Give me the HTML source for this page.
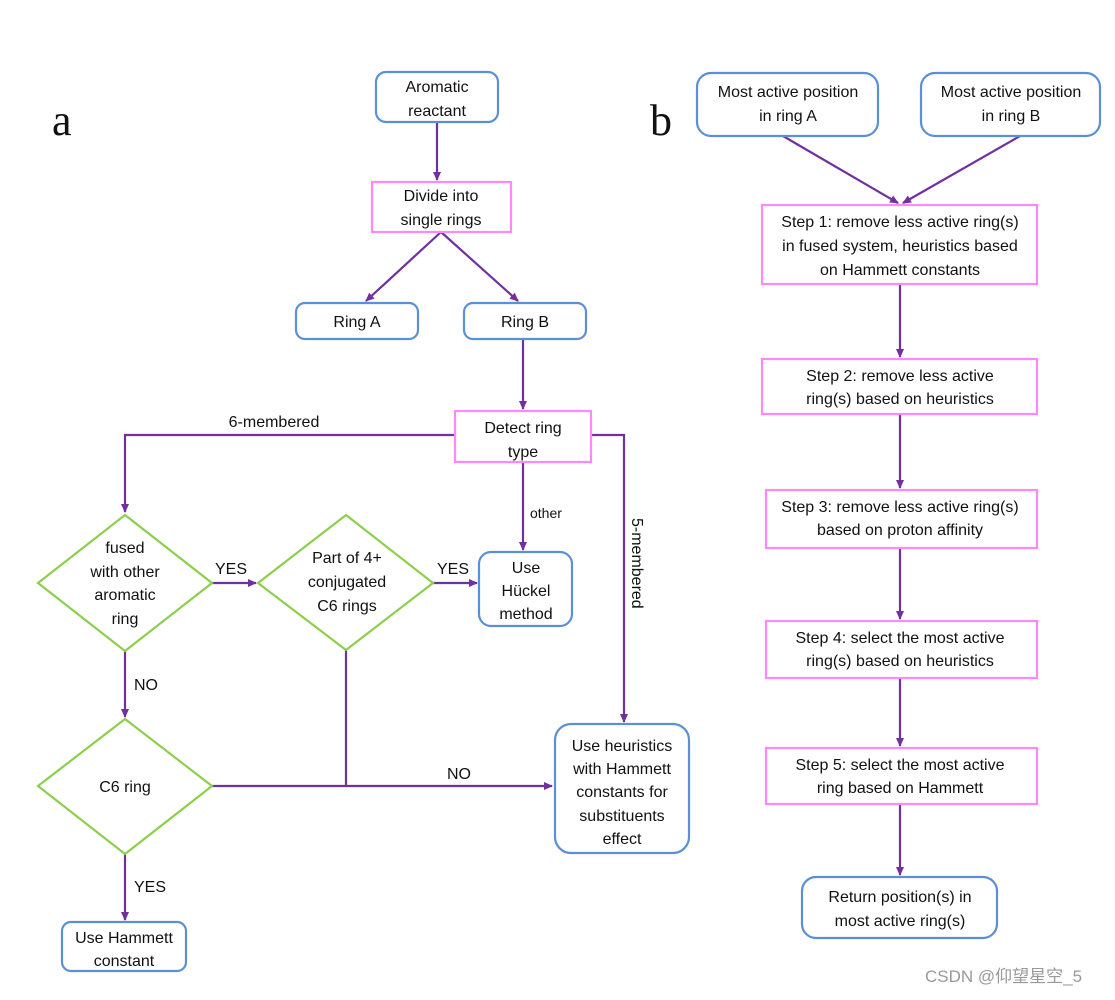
<!DOCTYPE html>
<html><head><meta charset="utf-8"><style>
html,body{margin:0;padding:0;background:#fff;}
svg text{font-family:"Liberation Sans","DejaVu Sans",sans-serif;font-size:16px;fill:#111;}
</style></head><body>
<svg width="1115" height="995" viewBox="0 0 1115 995" xmlns="http://www.w3.org/2000/svg">
<defs>
<marker id="ar" markerWidth="10" markerHeight="10" refX="8" refY="5" orient="auto" markerUnits="userSpaceOnUse">
<path d="M0,1 L9,5 L0,9 z" fill="#7030a0"/></marker>
</defs>
<g stroke="#7030a0" stroke-width="2.2" fill="none">
<line x1="437" y1="122" x2="437" y2="180" marker-end="url(#ar)"/>
<line x1="441" y1="232" x2="366" y2="301" marker-end="url(#ar)"/>
<line x1="441" y1="232" x2="518" y2="301" marker-end="url(#ar)"/>
<line x1="523" y1="339" x2="523" y2="409" marker-end="url(#ar)"/>
<polyline points="455,435 125,435 125,512" marker-end="url(#ar)"/>
<polyline points="591,435 624,435 624,722" marker-end="url(#ar)"/>
<line x1="523" y1="462" x2="523" y2="550" marker-end="url(#ar)"/>
<line x1="212" y1="583" x2="256" y2="583" marker-end="url(#ar)"/>
<line x1="433" y1="583" x2="477" y2="583" marker-end="url(#ar)"/>
<line x1="125" y1="651" x2="125" y2="717" marker-end="url(#ar)"/>
<line x1="212" y1="786" x2="552" y2="786" marker-end="url(#ar)"/>
<line x1="346" y1="650" x2="346" y2="786"/>
<line x1="125" y1="854" x2="125" y2="920" marker-end="url(#ar)"/>
<line x1="783" y1="136" x2="898" y2="203" marker-end="url(#ar)"/>
<line x1="1020" y1="136" x2="903" y2="203" marker-end="url(#ar)"/>
<line x1="900" y1="284" x2="900" y2="357" marker-end="url(#ar)"/>
<line x1="900" y1="414" x2="900" y2="488" marker-end="url(#ar)"/>
<line x1="900" y1="548" x2="900" y2="619" marker-end="url(#ar)"/>
<line x1="900" y1="678" x2="900" y2="746" marker-end="url(#ar)"/>
<line x1="900" y1="804" x2="900" y2="875" marker-end="url(#ar)"/>
</g>
<g fill="#fff" stroke-width="2.2">
<rect x="376" y="72" width="122" height="50" rx="10" stroke="#5b8fd6"/>
<rect x="372" y="182" width="139" height="50" stroke="#ff88ff"/>
<rect x="296" y="303" width="122" height="36" rx="9" stroke="#5b8fd6"/>
<rect x="464" y="303" width="122" height="36" rx="9" stroke="#5b8fd6"/>
<rect x="455" y="411" width="136" height="51" stroke="#ff88ff"/>
<polygon points="125,515 212,583 125,651 38,583" stroke="#8ccf4d"/>
<polygon points="346,515 433,583 346,650 258,583" stroke="#8ccf4d"/>
<rect x="479" y="552" width="93" height="74" rx="12" stroke="#5b8fd6"/>
<polygon points="125,719 212,786 125,854 38,786" stroke="#8ccf4d"/>
<rect x="555" y="724" width="134" height="129" rx="16" stroke="#5b8fd6"/>
<rect x="62" y="922" width="124" height="49" rx="9" stroke="#5b8fd6"/>
<rect x="697" y="73" width="181" height="63" rx="14" stroke="#5b8fd6"/>
<rect x="921" y="73" width="179" height="63" rx="14" stroke="#5b8fd6"/>
<rect x="762" y="205" width="275" height="79" stroke="#ff88ff"/>
<rect x="762" y="359" width="275" height="55" stroke="#ff88ff"/>
<rect x="766" y="490" width="271" height="58" stroke="#ff88ff"/>
<rect x="766" y="621" width="271" height="57" stroke="#ff88ff"/>
<rect x="766" y="748" width="271" height="56" stroke="#ff88ff"/>
<rect x="802" y="877" width="195" height="61" rx="14" stroke="#5b8fd6"/>
</g>
<text x="52" y="135" style="font-family:'Liberation Serif',serif;font-size:44px">a</text>
<text x="650" y="135" style="font-family:'Liberation Serif',serif;font-size:44px">b</text>
<g text-anchor="middle">
<text x="437" y="92">Aromatic</text><text x="437" y="116">reactant</text>
<text x="441" y="201">Divide into</text><text x="441" y="225">single rings</text>
<text x="357" y="327">Ring A</text><text x="525" y="327">Ring B</text>
<text x="523" y="433">Detect ring</text><text x="523" y="457">type</text>
<text x="274" y="427">6-membered</text>
<text x="125" y="553">fused</text><text x="125" y="577">with other</text><text x="125" y="600">aromatic</text><text x="125" y="624">ring</text>
<text x="347" y="563">Part of 4+</text><text x="347" y="587">conjugated</text><text x="347" y="611">C6 rings</text>
<text x="526" y="573">Use</text><text x="526" y="596">Hückel</text><text x="526" y="619">method</text>
<text x="231" y="574">YES</text><text x="453" y="574">YES</text>
<text x="125" y="792">C6 ring</text>
<text x="622" y="751">Use heuristics</text><text x="622" y="774">with Hammett</text><text x="622" y="797">constants for</text><text x="622" y="821">substituents</text><text x="622" y="844">effect</text>
<text x="459" y="779">NO</text>
<text x="124" y="943">Use Hammett</text><text x="124" y="966">constant</text>
<text x="788" y="97">Most active position</text><text x="788" y="121">in ring A</text>
<text x="1011" y="97">Most active position</text><text x="1011" y="121">in ring B</text>
<text x="900" y="227">Step 1: remove less active ring(s)</text>
<text x="900" y="251">in fused system, heuristics based</text>
<text x="900" y="275">on Hammett constants</text>
<text x="900" y="381">Step 2: remove less active</text><text x="900" y="404">ring(s) based on heuristics</text>
<text x="900" y="512">Step 3: remove less active ring(s)</text><text x="900" y="535">based on proton affinity</text>
<text x="900" y="643">Step 4: select the most active</text><text x="900" y="666">ring(s) based on heuristics</text>
<text x="900" y="770">Step 5: select the most active</text><text x="900" y="793">ring based on Hammett</text>
<text x="900" y="902">Return position(s) in</text><text x="900" y="926">most active ring(s)</text>
</g>
<text x="134" y="690">NO</text>
<text x="134" y="892">YES</text>
<text x="530" y="518" style="font-size:14px">other</text>
<text x="632" y="518" transform="rotate(90 632 518)" style="font-size:16px">5-membered</text>
<text x="925" y="982" style="font-family:'Liberation Sans','Noto Sans CJK SC',sans-serif;font-size:17px;fill:#999">CSDN @仰望星空_5</text>
</svg>
</body></html>
